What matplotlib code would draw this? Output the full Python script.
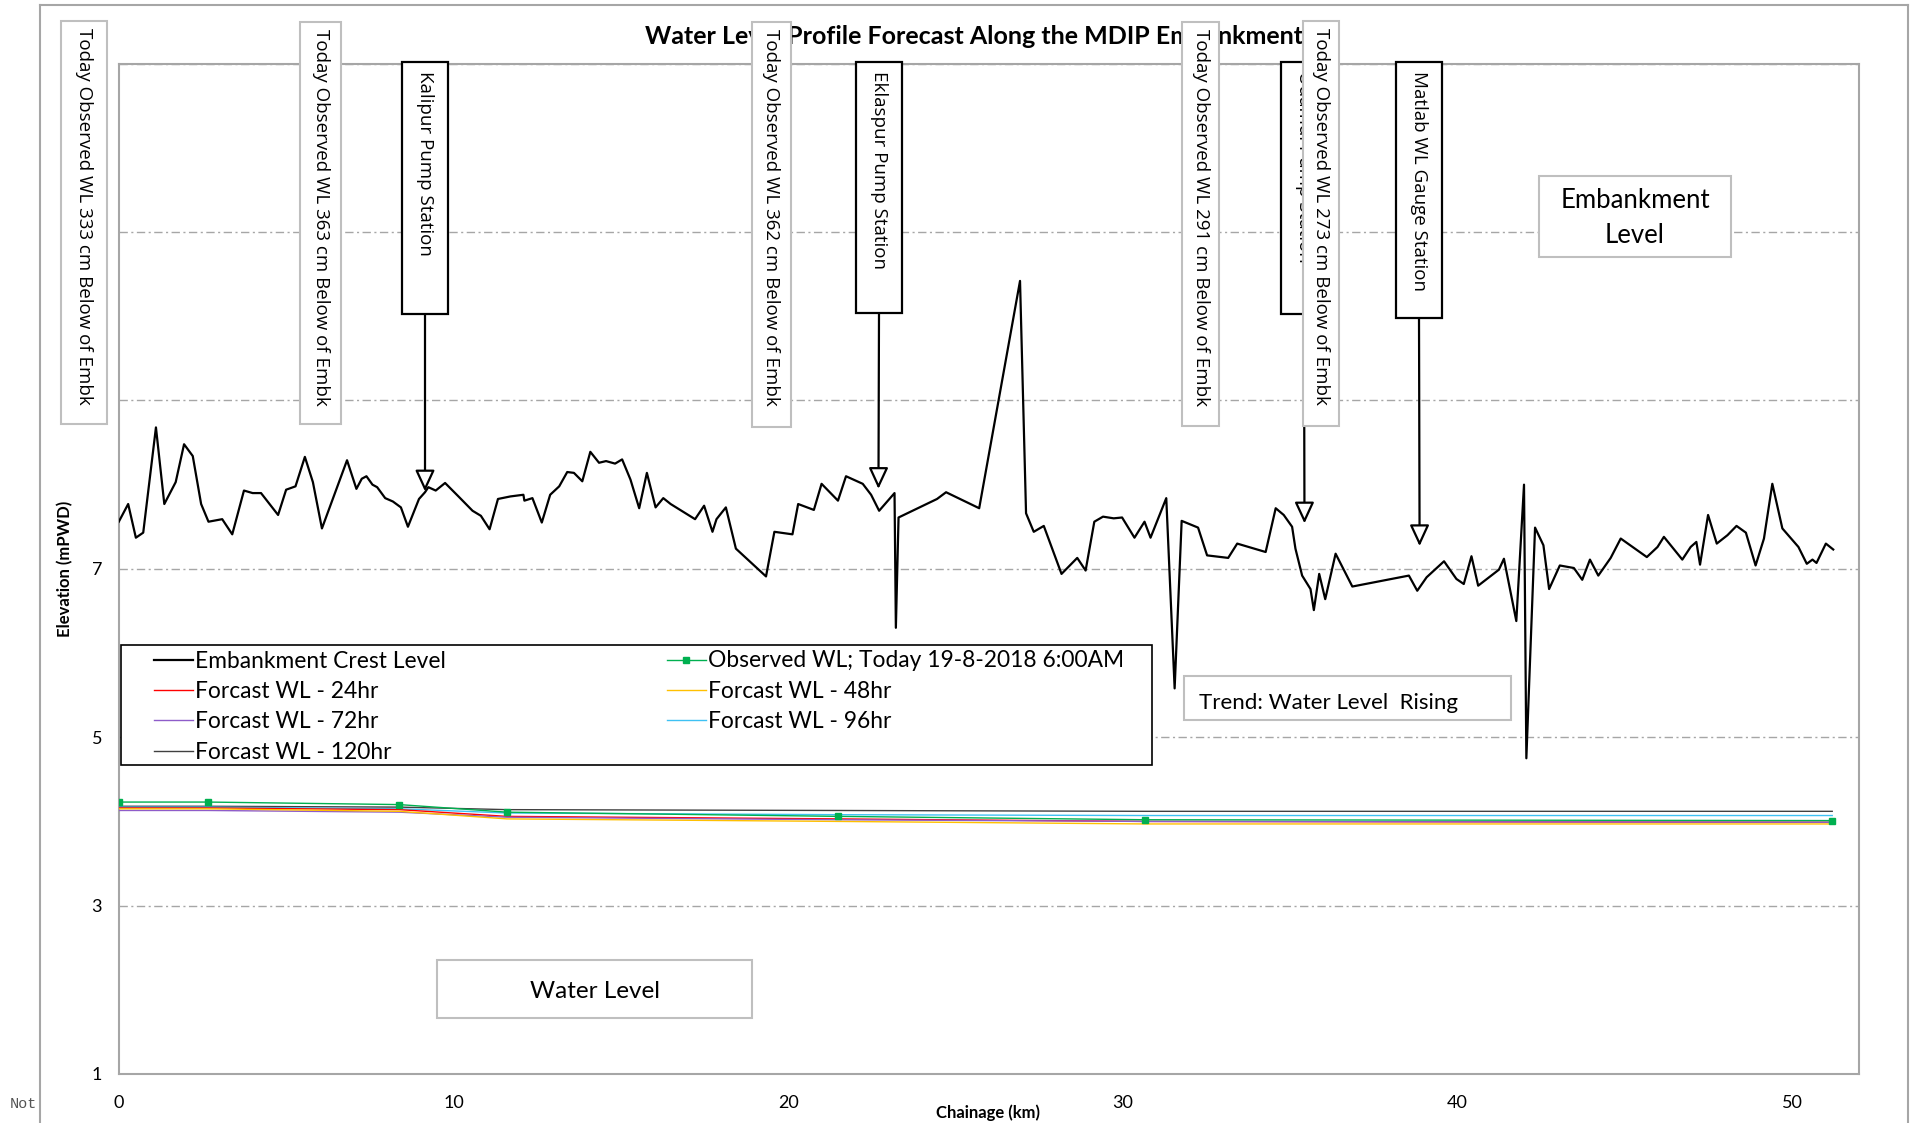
import matplotlib
matplotlib.use('Agg')
import matplotlib.pyplot as plt
from matplotlib.patches import Rectangle
from matplotlib.lines import Line2D

# embankment crest level along the chainage
emb_km = [0.00, 0.28, 0.51, 0.73, 1.11, 1.36, 1.70, 1.95, 2.21, 2.46,
          2.68, 3.09, 3.39, 3.74, 4.00, 4.25, 4.76, 5.00, 5.28, 5.56,
          5.80, 6.07, 6.82, 7.10, 7.26, 7.40, 7.58, 7.72, 7.96, 8.19,
          8.43, 8.64, 8.97, 9.15, 9.25, 9.47, 9.75, 10.15, 10.57, 10.82,
          11.08, 11.33, 11.70, 12.09, 12.12, 12.36, 12.64, 12.89, 13.16, 13.40,
          13.60, 13.85, 14.09, 14.35, 14.56, 14.83, 15.04, 15.29, 15.55, 15.78,
          16.04, 16.27, 16.49, 17.22, 17.49, 17.74, 17.86, 18.14, 18.44, 19.34,
          19.59, 20.13, 20.30, 20.77, 21.00, 21.49, 21.73, 22.23, 22.48, 22.72,
          23.18, 23.22, 23.30, 24.45, 24.72, 25.71, 26.93, 27.11, 27.34, 27.64,
          28.17, 28.64, 28.89, 29.15, 29.41, 29.73, 29.98, 30.35, 30.65, 30.83,
          31.30, 31.55, 31.76, 32.25, 32.52, 33.15, 33.42, 34.27, 34.57, 34.81,
          35.06, 35.16, 35.36, 35.61, 35.71, 35.87, 36.05, 36.36, 36.86, 38.55,
          38.80, 39.08, 39.60, 39.97, 40.19, 40.42, 40.62, 41.24, 41.39, 41.76,
          41.99, 42.06, 42.32, 42.57, 42.74, 43.06, 43.48, 43.73, 43.96, 44.21,
          44.58, 44.88, 45.66, 45.98, 46.17, 46.72, 46.97, 47.14, 47.25, 47.49,
          47.75, 48.07, 48.34, 48.62, 48.91, 49.16, 49.41, 49.71, 50.19, 50.44,
          50.61, 50.73, 51.01, 51.23]
emb_level = [7.56, 7.77, 7.37, 7.43, 8.68, 7.77, 8.03, 8.48, 8.34, 7.77,
             7.56, 7.59, 7.41, 7.93, 7.90, 7.90, 7.64, 7.94, 7.98, 8.33,
             8.03, 7.48, 8.29, 7.95, 8.07, 8.10, 8.00, 7.97, 7.84, 7.80,
             7.73, 7.50, 7.83, 7.91, 7.97, 7.93, 8.02, 7.86, 7.69, 7.63,
             7.47, 7.83, 7.86, 7.88, 7.81, 7.84, 7.55, 7.88, 7.98, 8.15,
             8.14, 8.04, 8.39, 8.26, 8.28, 8.25, 8.30, 8.06, 7.72, 8.14,
             7.73, 7.84, 7.77, 7.59, 7.75, 7.44, 7.59, 7.73, 7.24, 6.91,
             7.44, 7.41, 7.77, 7.70, 8.01, 7.81, 8.10, 8.01, 7.88, 7.69,
             7.90, 6.30, 7.61, 7.83, 7.91, 7.72, 10.42, 7.66, 7.44, 7.51,
             6.94, 7.13, 6.98, 7.56, 7.62, 7.60, 7.61, 7.37, 7.56, 7.37,
             7.84, 5.58, 7.57, 7.49, 7.16, 7.13, 7.30, 7.20, 7.72, 7.64,
             7.50, 7.24, 6.92, 6.76, 6.51, 6.94, 6.64, 7.18, 6.79, 6.92,
             6.74, 6.90, 7.09, 6.88, 6.82, 7.15, 6.80, 6.99, 7.12, 6.38,
             8.00, 4.75, 7.49, 7.28, 6.76, 7.04, 7.01, 6.87, 7.11, 6.92,
             7.13, 7.36, 7.14, 7.26, 7.38, 7.11, 7.26, 7.32, 7.05, 7.64,
             7.30, 7.40, 7.51, 7.43, 7.04, 7.36, 8.01, 7.48, 7.26, 7.06,
             7.11, 7.07, 7.30, 7.23]

# water levels at the gauge chainages
wl_km = [0.0, 2.67, 8.38, 11.6, 21.5, 30.67, 51.2]
wl_obs = [4.23, 4.23, 4.20, 4.11, 4.06, 4.02, 4.01]
wl_24 = [4.16, 4.16, 4.14, 4.06, 4.03, 4.00, 3.99]
wl_48 = [4.15, 4.15, 4.12, 4.03, 4.00, 3.97, 3.97]
wl_72 = [4.13, 4.13, 4.11, 4.05, 4.02, 4.00, 3.99]
wl_96 = [4.17, 4.17, 4.15, 4.10, 4.08, 4.07, 4.07]
wl_120 = [4.18, 4.18, 4.17, 4.14, 4.13, 4.12, 4.12]

# stations pointed at by arrows
station_names = ['Kalipur Pump Station', 'Eklaspur Pump Station',
                 'Udamdi Pump Station', 'Matlab WL Gauge Station']
station_km = [9.15, 22.70, 35.43, 38.87]
station_tip = [7.92, 7.95, 7.54, 7.27]

obs_notes = ['Today Observed WL 333 cm Below of Embk',
             'Today Observed WL 363 cm Below of Embk',
             'Today Observed WL 362 cm Below of Embk',
             'Today Observed WL 291 cm Below of Embk',
             'Today Observed WL 273 cm Below of Embk']

x_ticks = [0, 10, 20, 30, 40, 50]
y_ticks = [1, 3, 5, 7, 9, 11, 13]
y_ticklabels = ['1', '3', '5', '7', '', '', '']

W, H = 1920, 1123
FONT = 'Lato'
VFONT = 'Open Sans'


def fx(px):
    return px / W


def fy(py):
    return 1 - py / H


def box(x0, y0, x1, y1, ec, lw, z):
    fig.add_artist(Rectangle((fx(x0), fy(y1)), fx(x1 - x0), (y1 - y0) / H,
                             transform=fig.transFigure, fc='white', ec=ec,
                             lw=lw, zorder=z))


fig = plt.figure(figsize=(W / 100, H / 100), dpi=100)
ax = fig.add_axes([fx(118.8), fy(1074), fx(1859 - 118.8), (1074 - 63.7) / H])

l_emb, = ax.plot(emb_km, emb_level, color='black', lw=1.6, zorder=5)
l_120, = ax.plot(wl_km, wl_120, color='#404040', lw=1.0, zorder=3)
l_96, = ax.plot(wl_km, wl_96, color='#3EC1F3', lw=1.0, zorder=3)
l_24, = ax.plot(wl_km, wl_24, color='#FF0000', lw=1.0, zorder=3)
l_72, = ax.plot(wl_km, wl_72, color='#8E5CC9', lw=1.0, zorder=3)
l_48, = ax.plot(wl_km, wl_48, color='#FFC000', lw=1.0, zorder=3)
l_obs, = ax.plot(wl_km, wl_obs, color='#00B050', lw=1.0, marker='s',
                 ms=5, zorder=4)

ax.set_xlim(0, 52)
ax.set_ylim(1, 13)
ax.set_xticks(x_ticks)
ax.set_yticks(y_ticks)
ax.set_yticklabels(y_ticklabels)
ax.tick_params(axis='x', length=0, labelsize=13, pad=15)
ax.tick_params(axis='y', length=0, labelsize=13, pad=12)
for lab in ax.get_xticklabels() + ax.get_yticklabels():
    lab.set_fontfamily(FONT)
ax.yaxis.grid(True, color='#A6A6A6', lw=1.0, linestyle=(0, (6, 2.5, 1.5, 2.5)))
for sp in ax.spines.values():
    sp.set_color('#A6A6A6')
    sp.set_linewidth(1.5)

# outer chart border
for xs, ys in [([40, 40], [1123, 5]), ([40, 1908], [5, 5]), ([1908, 1908], [5, 1123])]:
    fig.add_artist(Line2D([fx(v) for v in xs], [fy(v) for v in ys],
                          transform=fig.transFigure, color='#A6A6A6', lw=1.5))
fig.text(fx(10), fy(1104), 'Not', family='Liberation Mono', size=11,
         color='#555555', va='center')

fig.text(fx(974), fy(37), 'Water Level Profile Forecast Along the MDIP Embankment',
         family=FONT, weight='bold', size=18, ha='center', va='center', zorder=1)
fig.text(fx(65), fy(569), 'Elevation (mPWD)', family=FONT, weight='bold', size=12,
         rotation=90, ha='center', va='center')
fig.text(fx(988), fy(1113), 'Chainage (km)', family=FONT, weight='bold', size=12,
         ha='center', va='center')

# vertical callouts
obs_boxes = [(61, 21, 107, 424), (300, 22, 341, 424), (752, 22, 791, 427),
             (1182, 22, 1219, 426), (1303, 21, 1339, 426)]
st_boxes = [(402, 62, 448, 314), (856, 62, 902, 313), (1281, 62, 1327, 314),
            (1396, 62, 1442, 318)]
callouts = [(obs_boxes[0], obs_notes[0], 'obs'), (obs_boxes[1], obs_notes[1], 'obs'),
            (st_boxes[0], station_names[0], 'st'), (obs_boxes[2], obs_notes[2], 'obs'),
            (st_boxes[1], station_names[1], 'st'), (obs_boxes[3], obs_notes[3], 'obs'),
            (st_boxes[2], station_names[2], 'st'), (obs_boxes[4], obs_notes[4], 'obs'),
            (st_boxes[3], station_names[3], 'st')]
z = 10
for (x0, y0, x1, y1), txt, kind in callouts:
    if kind == 'obs':
        box(x0, y0, x1, y1, '#BFBFBF', 1.5, z)
        ty = y0 + 7
    else:
        box(x0, y0, x1, y1, 'black', 1.6, z)
        ty = y0 + 9
    fig.text(fx((x0 + x1) / 2), fy(ty), txt, family=VFONT, size=13.5,
             rotation=-90, ha='center', va='top', zorder=z + 0.5)
    z += 1

for (x0, y0, x1, y1), km, tip in zip(st_boxes, station_km, station_tip):
    ax.annotate('', xy=(km, tip), xycoords='data',
                xytext=((x0 + x1) / 2, H - y1), textcoords='figure pixels',
                arrowprops=dict(arrowstyle='-|>,head_length=1.3,head_width=0.6',
                                lw=1.6, ec='black', fc='white',
                                shrinkA=0, shrinkB=0, mutation_scale=10),
                zorder=6)

# text boxes
box(1539, 176, 1731, 257, '#BFBFBF', 1.5, 30)
fig.text(fx(1635), fy(218), 'Embankment\nLevel', family=FONT, size=18.5,
         ha='center', va='center', linespacing=1.5, zorder=31)
box(1184, 676, 1511, 720, '#BFBFBF', 1.5, 30)
fig.text(fx(1199), fy(703), 'Trend: Water Level  Rising', family=FONT, size=16,
         ha='left', va='center', zorder=31)
box(437, 960, 752, 1018, '#BFBFBF', 1.5, 30)
fig.text(fx(594.5), fy(991), 'Water Level', family=FONT, size=17.5,
         ha='center', va='center', zorder=31)

# legend, two columns in one frame
box(121, 645, 1152, 765, 'black', 1.2, 30)
labels1 = ['Embankment Crest Level', 'Forcast WL - 24hr', 'Forcast WL - 72hr',
           'Forcast WL - 120hr']
labels2 = ['Observed WL; Today 19-8-2018 6:00AM', 'Forcast WL - 48hr',
           'Forcast WL - 96hr']
for handles, labels, left in [([l_emb, l_24, l_72, l_120], labels1, 154),
                              ([l_obs, l_48, l_96], labels2, 667)]:
    leg = fig.legend(handles, labels, loc='upper left',
                     bbox_to_anchor=(fx(left), fy(650.5)), frameon=False,
                     borderpad=0, borderaxespad=0, handlelength=1.7,
                     handletextpad=0.1, labelspacing=0.41,
                     prop={'family': FONT, 'size': 16.4})
    leg.set_zorder(32)

fig.savefig('out.png', dpi=100)
